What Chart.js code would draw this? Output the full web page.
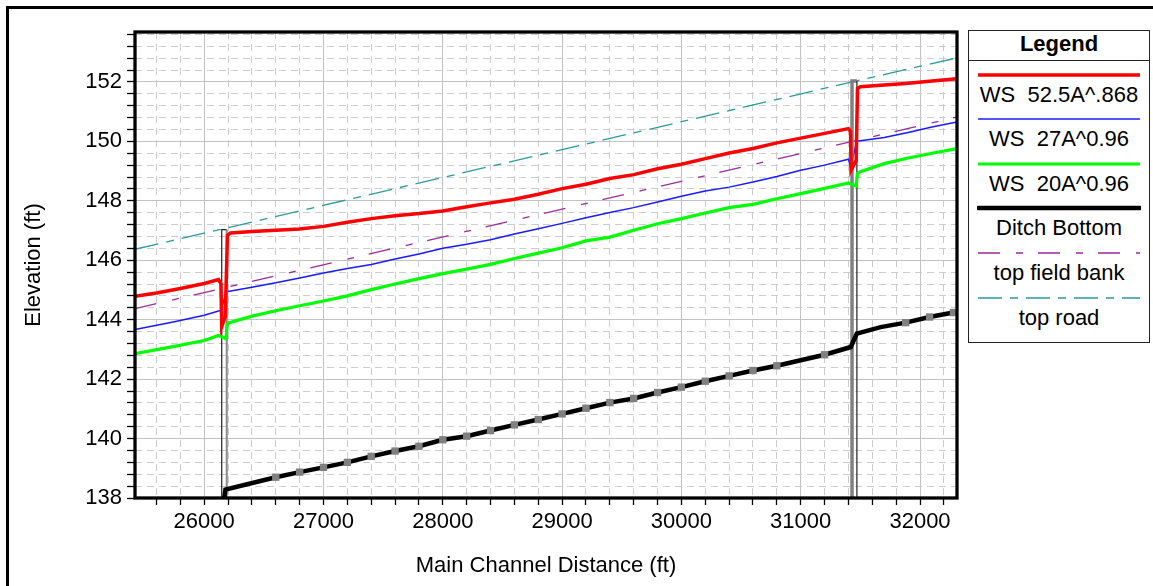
<!DOCTYPE html>
<html>
<head>
<meta charset="utf-8">
<script src="https://cdn.jsdelivr.net/npm/chart.js@4.4.1/dist/chart.umd.min.js"></script>
<style>
  body { margin: 0; background: #fff; overflow: hidden; font-family: "Liberation Sans", Arial, sans-serif; }
  #wrap { position: relative; width: 1153px; height: 586px; overflow: hidden; }
  #frame { position: absolute; left: 6px; top: 6px; width: 1200px; height: 700px; border-left: 3px solid #000; border-top: 3px solid #000; }
  #grafica { position: absolute; left: 0; top: 0; }
  #legend { position: absolute; left: 968px; top: 30px; width: 182px; height: 313px; border: 1.5px solid #222; box-sizing: border-box; background: #fff; }
  #legend .title { position: absolute; left: 0; right: 0; top: 0; height: 30px; box-sizing: border-box; border-bottom: 1px solid #222; text-align: center; font-weight: bold; font-size: 22px; line-height: 25px; }
  #legend .txt { position: absolute; left: 0; right: 0; text-align: center; font-size: 22px; line-height: 26px; white-space: pre; color: #000; }
  #legend svg { position: absolute; left: 8px; }
</style>
</head>
<body>
<div id="wrap">
  <div id="frame"></div>
  <canvas id="grafica" width="1153" height="586"></canvas>
  <div id="legend"><div class="title">Legend</div></div>
</div>
<script>
// axis ranges and labelled ticks
const xRange = [25420, 32310];
const yRange = [138, 153.68];
const xTickLabels = [26000, 27000, 28000, 29000, 30000, 31000, 32000];
const yTickLabels = [138, 140, 142, 144, 146, 148, 150, 152];

// water surfaces (ft vs main channel distance)
const ws525 = [[25420,144.79],[25600,144.90],[25800,145.05],[26000,145.22],[26120,145.35],[26140,145.21],[26147,143.77],
  [26176,144.09],[26195,146.84],[26220,146.92],[26400,146.97],[26600,147.01],[26800,147.05],[27000,147.14],[27200,147.28],
  [27400,147.40],[27600,147.50],[27800,147.57],[28000,147.66],[28200,147.80],[28400,147.93],[28600,148.05],[28800,148.22],
  [29000,148.41],[29200,148.56],[29400,148.75],[29600,148.88],[29800,149.08],[30000,149.23],[30200,149.42],[30400,149.61],
  [30600,149.76],[30800,149.95],[31000,150.11],[31200,150.27],[31400,150.43],[31418,150.33],[31422,149.03],[31465,149.36],
  [31476,151.78],[31500,151.84],[31670,151.89],[31880,151.95],[32100,152.03],[32310,152.11]];
const ws27 = [[25420,143.67],[25750,143.93],[26000,144.15],[26120,144.29],[26140,144.31],[26185,144.93],[26200,144.95],
  [26400,145.09],[26600,145.24],[26800,145.40],[27000,145.57],[27200,145.72],[27400,145.86],[27600,146.04],[27800,146.21],
  [28000,146.40],[28200,146.54],[28400,146.69],[28600,146.88],[28800,147.06],[29000,147.24],[29200,147.43],[29400,147.61],
  [29600,147.77],[29800,147.96],[30000,148.15],[30200,148.33],[30400,148.46],[30600,148.63],[30800,148.82],[31000,149.03],
  [31200,149.20],[31400,149.40],[31420,149.10],[31468,150.00],[31500,150.02],[31700,150.13],[31900,150.30],[32100,150.48],
  [32310,150.65]];
const ws20 = [[25420,142.86],[25750,143.10],[26000,143.30],[26120,143.47],[26184,143.36],[26192,143.85],[26210,143.90],
  [26400,144.12],[26600,144.30],[26800,144.47],[27000,144.63],[27200,144.80],[27400,145.01],[27600,145.20],[27800,145.38],
  [28000,145.55],[28200,145.70],[28400,145.86],[28600,146.06],[28800,146.24],[29000,146.42],[29200,146.65],[29400,146.78],
  [29600,147.01],[29800,147.23],[30000,147.40],[30200,147.59],[30400,147.77],[30600,147.88],[30800,148.07],[31000,148.24],
  [31200,148.42],[31400,148.60],[31465,148.49],[31475,148.92],[31500,148.98],[31700,149.25],[31900,149.44],[32100,149.60],
  [32310,149.76]];
const ditch = [[26168,138.0],[26178,138.28],[26600,138.70],[26800,138.87],[27000,139.03],[27200,139.20],[27400,139.40],
  [27600,139.58],[27800,139.74],[28000,139.96],[28200,140.08],[28400,140.27],[28600,140.46],[28800,140.64],[29000,140.83],
  [29200,141.02],[29400,141.21],[29600,141.35],[29800,141.55],[30000,141.73],[30200,141.93],[30400,142.11],[30600,142.29],
  [30800,142.45],[31200,142.82],[31420,143.08],[31470,143.53],[31670,143.75],[31880,143.90],[32080,144.09],[32280,144.24]];
const fieldBank = [[25420,144.37],[28816,147.55],[32310,150.82]];
const road = [[25420,146.37],[26150,147.05],[31450,152.02],[32310,152.81]];
// culvert outlines
const culvert1 = [[26147,138],[26147,147.03],[26189,147.03],[26189,138]];
const culvert2 = [[31430,138],[31430,152.03],[31471,152.03],[31471,138]];

const pts = arr => arr.map(p => ({x: p[0], y: p[1]}));
const culvertMid = [culvert1, culvert2].map(c => (c[0][0] + c[2][0]) / 2);
const isOn = (list, v) => list.some(t => Math.abs(t - v) < 1e-6);

Chart.defaults.font.family = '"Liberation Sans", Arial, sans-serif';
Chart.defaults.font.size = 22;
Chart.defaults.color = '#000';

const frame = {
  id: 'frame',
  afterDraw(chart) {
    const {ctx, chartArea: a} = chart;
    ctx.save();
    ctx.strokeStyle = '#000';
    ctx.lineWidth = 3.3;
    ctx.strokeRect(a.left, a.top, a.right - a.left, a.bottom - a.top);
    ctx.restore();
  }
};

let ctx = document.getElementById('grafica').getContext('2d');
let miGrafica = new Chart(ctx, {
  type: 'scatter',
  data: {
    datasets: [
      { label: 'WS  52.5A^.868', data: pts(ws525), showLine: true, borderColor: '#ff0000', borderWidth: 3.5, pointRadius: 0, order: 1 },
      { label: 'WS  27A^0.96', data: pts(ws27), showLine: true, borderColor: '#1a1aff', borderWidth: 1.5, pointRadius: 0, order: 5 },
      { label: 'WS  20A^0.96', data: pts(ws20), showLine: true, borderColor: '#00ff00', borderWidth: 3.2, pointRadius: 0, order: 2 },
      { label: 'Ditch Bottom', data: pts(ditch), showLine: true, borderColor: '#000', borderWidth: 4.5, order: 3,
        pointStyle: 'rect', pointBackgroundColor: '#808080', pointBorderWidth: 0,
        pointRadius: c => (c.raw && culvertMid.some(m => Math.abs(c.raw.x - m) < 230)) ? 0 : 5.2 },
      { label: 'top field bank', data: pts(fieldBank), showLine: true, borderColor: '#9b2a9b', borderWidth: 1.3,
        borderDash: [22, 16, 7, 15], pointRadius: 0, order: 6 },
      { label: 'top road', data: pts(road), showLine: true, borderColor: '#2b9a9a', borderWidth: 1.3,
        borderDash: [24, 8, 8, 8], pointRadius: 0, order: 7 },
      { label: '', data: pts(culvert1), showLine: true, pointRadius: 0, order: 4, borderColor: '#222', borderWidth: 1.2,
        segment: { borderColor: c => c.p0DataIndex === 2 ? '#8a8a8a' : '#222', borderWidth: c => c.p0DataIndex === 2 ? 2 : 1.2 } },
      { label: '', data: pts(culvert2), showLine: true, pointRadius: 0, order: 4, borderColor: '#222', borderWidth: 1.2,
        segment: { borderColor: c => c.p0DataIndex === 2 ? '#222' : '#808080', borderWidth: c => c.p0DataIndex === 2 ? 1.2 : 3.5 } }
    ]
  },
  options: {
    responsive: false,
    animation: false,
    layout: { padding: { left: 0, top: 32, right: 196, bottom: 0 } },
    elements: { line: { tension: 0 } },
    plugins: { legend: { display: false }, tooltip: { enabled: false } },
    scales: {
      x: {
        type: 'linear', min: xRange[0], max: xRange[1],
        ticks: { stepSize: 200, autoSkip: false, includeBounds: false, maxRotation: 0, padding: 4,
          callback: v => isOn(xTickLabels, v) ? String(Math.round(v)) : '' },
        grid: { color: c => (c.tick && isOn(xTickLabels, c.tick.value)) ? '#c2c2c2' : '#cccccc', lineWidth: 1,
          tickColor: '#000', tickLength: 7, tickWidth: 1.3 },
        border: { display: false, dash: c => (c.tick && !isOn(xTickLabels, c.tick.value)) ? [7, 5] : [] },
        title: { display: true, text: 'Main Channel Distance (ft)', padding: { top: 0, bottom: 7 } },
        afterFit: s => { s.height = 88; }
      },
      y: {
        type: 'linear', min: yRange[0], max: yRange[1],
        ticks: { stepSize: 0.4, autoSkip: false, includeBounds: false, padding: 5,
          callback: v => isOn(yTickLabels, v) ? String(Math.round(v)) : '' },
        grid: { color: c => (c.tick && isOn(yTickLabels, c.tick.value)) ? '#c2c2c2' : '#cccccc', lineWidth: 1,
          tickColor: '#000', tickLength: 8, tickWidth: 1.3 },
        border: { display: false, dash: c => (c.tick && !isOn(yTickLabels, c.tick.value)) ? [7, 5] : [] },
        title: { display: true, text: 'Elevation (ft)', padding: { top: 21, bottom: 0 } },
        afterFit: s => { s.width = 135; }
      }
    }
  },
  plugins: [frame]
});

// legend box built from the datasets
const leyenda = document.getElementById('legend');
miGrafica.data.datasets.filter(d => d.label).forEach((d, i) => {
  const lineY = 43.5 + i * 44.6;
  const svg = document.createElementNS('http://www.w3.org/2000/svg', 'svg');
  svg.setAttribute('width', '164');
  svg.setAttribute('height', '10');
  svg.style.top = (lineY - 5) + 'px';
  const ln = document.createElementNS('http://www.w3.org/2000/svg', 'line');
  ln.setAttribute('x1', '1'); ln.setAttribute('x2', '163');
  ln.setAttribute('y1', '5'); ln.setAttribute('y2', '5');
  ln.setAttribute('stroke', d.borderColor);
  ln.setAttribute('stroke-width', d.borderWidth);
  if (d.borderDash) ln.setAttribute('stroke-dasharray', d.borderDash.join(' '));
  if (d.label === 'Ditch Bottom') ln.setAttribute('stroke-linecap', 'round');
  svg.appendChild(ln);
  leyenda.appendChild(svg);
  const t = document.createElement('div');
  t.className = 'txt';
  t.style.top = (lineY + 20 - 13) + 'px';
  t.textContent = d.label;
  leyenda.appendChild(t);
});
</script>
</body>
</html>
